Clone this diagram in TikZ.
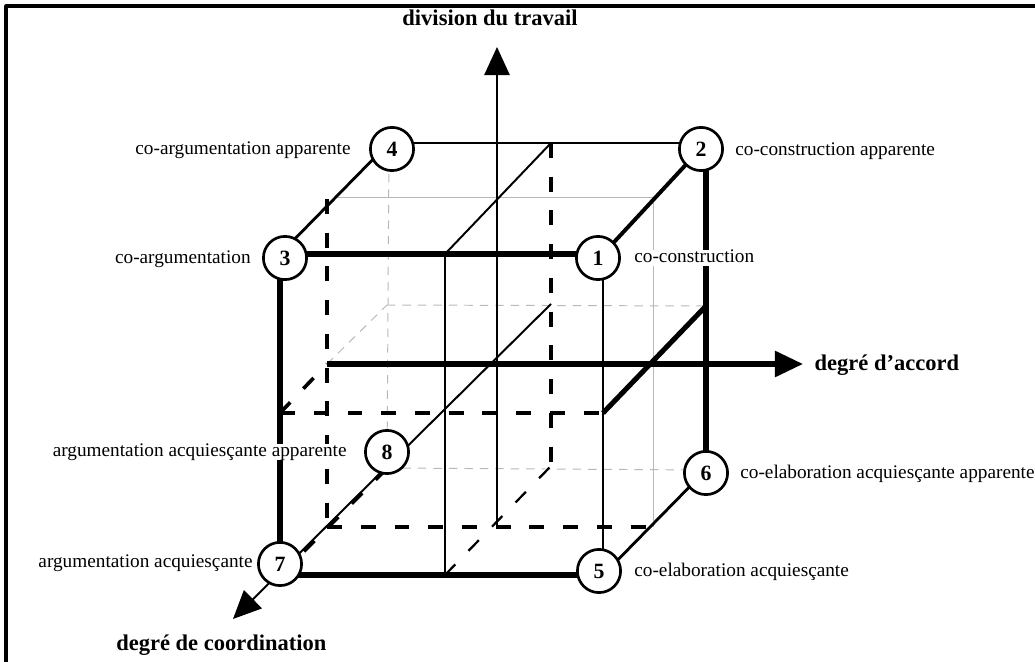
\documentclass[tikz,border=0pt]{standalone}
\usepackage{fontspec}
\setmainfont{Liberation Serif}
\usetikzlibrary{arrows.meta,positioning}

\begin{document}
\begin{tikzpicture}[x=0.025cm, y=-0.025cm, line join=round,
    epais/.style={line width=3.6pt},
    moyen/.style={line width=2pt},
    fin/.style={line width=1.4pt},
    gris/.style={line width=0.7pt, draw=black!28},
    grisTirets/.style={gris, dash pattern=on 6pt off 5pt},
    tirets/.style={dash pattern=on 10.5pt off 13.5pt},
    axe/.style={-{Triangle[length=20pt,width=18pt]}}]
    % ---- cadre ----
    \useasboundingbox (0,0) rectangle (1035,662);
    \clip (0,0) rectangle (1035,662);
    \draw[line width=2.2pt] (6,6) rectangle (1060,690);

    % ---- coins du cube ----
    \coordinate (c3) at (280,254);
    \coordinate (c1) at (603,254);
    \coordinate (c7) at (280,575);
    \coordinate (c5) at (603,575);
    \coordinate (c4) at (389,143);
    \coordinate (c2) at (706,143);
    \coordinate (c8) at (387,468);
    \coordinate (c6) at (706,470);

    % ---- milieux des faces ----
    \coordinate (mh1) at (445,254);
    \coordinate (mh2) at (551,143);
    \coordinate (mh3) at (334,197);
    \coordinate (mh4) at (653,197);
    \coordinate (mb1) at (445,575);
    \coordinate (mb2) at (551,466);
    \coordinate (mb3) at (327,527);
    \coordinate (mb4) at (653,527);
    \coordinate (mg1) at (327,199);
    \coordinate (mg) at (327,364);
    \coordinate (mav1) at (280,413);
    \coordinate (mav2) at (603,413);
    \coordinate (mar1) at (387,305);
    \coordinate (mar2) at (706,306);

    % ---- extremites des axes ----
    \coordinate (zb) at (497,527);
    \coordinate (zh) at (497,47);
    \coordinate (xd) at (803,364);
    \coordinate (yb) at (551,304);
    \coordinate (yf) at (233,619);

    % ---- aretes cachees (gris) ----
    \draw[gris] (mh3) -- (mh4) -- (mb4);
    \draw[grisTirets] (c4) -- (c8);
    \draw[grisTirets] (c8) -- (c6);
    \draw[grisTirets] (mar1) -- (mar2);
    \draw[grisTirets] (mg) -- (mar1);

    % ---- plans medians en tirets ----
    \draw[tirets, line width=2.8pt] (mav1) -- (mav2);
    \draw[tirets, line width=2.6pt] (mav1) -- (mg);
    \draw[tirets, line width=2.3pt] (mg1) -- (mb3);
    \draw[tirets, line width=2.3pt] (mh2) -- (mb2);
    \draw[tirets, line width=2.3pt] (mb3) -- (mb4);
    \draw[tirets, line width=1.6pt] (mb1) -- (mb2);
    \draw[tirets, line width=2.8pt] (c7) -- (c8);

    % ---- aretes visibles ----
    \draw[fin] (mh1) -- (mh2);
    \draw[fin] (mh1) -- (mb1);
    \draw[fin] (c1) -- (c5);
    \draw[moyen] (c4) -- (c2);
    \draw[moyen] (c3) -- (c4);
    \draw[moyen] (c5) -- (c6);
    \draw[line width=2.8pt] (c1) -- (c2);
    \draw[epais] (c3) -- (c1);
    \draw[epais] (c3) -- (c7);
    \draw[epais] (c7) -- (c5);
    \draw[epais] (c2) -- (c6);
    \draw[epais] (mav2) -- (mar2);

    % ---- les trois axes ----
    \draw[fin, axe] (zb) -- (zh);
    \draw[epais, axe] (mg) -- (xd);
    \draw[fin, axe] (yb) -- (yf);

    % ---- sommets numerotes (par-dessus les aretes) ----
    \tikzset{sommet/.style={circle, draw, line width=1.9pt, fill=white,
            minimum size=1.08cm, inner sep=0pt, font=\fontsize{15.5}{18}\selectfont\bfseries},
        etiq/.style={font=\fontsize{13.7}{16}\selectfont, inner sep=1.5pt, fill=white,
            text height=1.5ex, text depth=.25ex},
        titre/.style={font=\fontsize{16}{19}\selectfont\bfseries, inner sep=1pt}}
    \node[sommet] (n1) at (598,258) {1};
    \node[sommet] (n2) at (701,149) {2};
    \node[sommet] (n3) at (285,258) {3};
    \node[sommet] (n4) at (392,149) {4};
    \node[sommet] (n5) at (599,571) {5};
    \node[sommet] (n6) at (706,473) {6};
    \node[sommet] (n7) at (280,564) {7};
    \node[sommet] (n8) at (387,452) {8};

    % ---- etiquettes ----
    \node[etiq, anchor=east] (l4) at (353,150) {co-argumentation apparente};
    \node[etiq, anchor=east] (l3) at (253,259) {co-argumentation};
    \node[etiq, anchor=east] (l8) at (349,452) {argumentation acquiesçante apparente};
    \node[etiq, anchor=east] (l7) at (255,563) {argumentation acquiesçante};
    \node[etiq, anchor=west] (l2) at (733,151) {co-construction apparente};
    \node[etiq, anchor=west] (l1) at (632,258) {co-construction};
    \node[etiq, anchor=west] (l6) at (738,474) {co-elaboration acquiesçante apparente};
    \node[etiq, anchor=west] (l5) at (632,572) {co-elaboration acquiesçante};

    \node[titre] (tz) at (490,18) {division du travail};
    \node[titre, anchor=west] (tx) at (813,365) {degré d’accord};
    \node[titre, anchor=east] (ty) at (328,645) {degré de coordination};
\end{tikzpicture}
\end{document}
